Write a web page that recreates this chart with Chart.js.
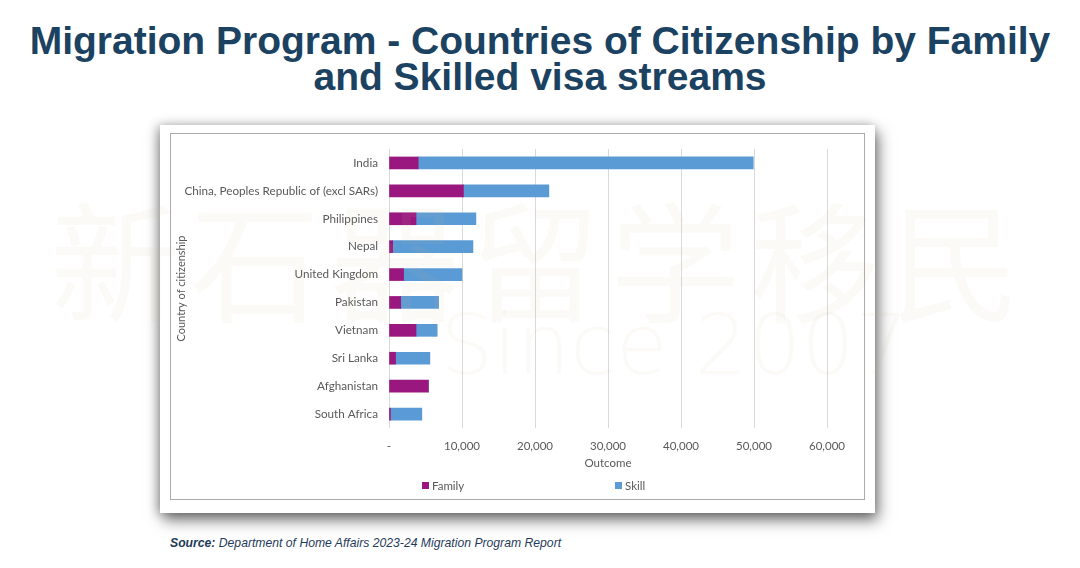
<!DOCTYPE html>
<html>
<head>
<meta charset="utf-8">
<script src="https://cdn.jsdelivr.net/npm/chart.js@4.4.1/dist/chart.umd.min.js"></script>
<style>
  body { margin: 0; width: 1080px; height: 568px; background: #fff; position: relative; overflow: hidden; font-family: "Liberation Sans", Arial, sans-serif; }
  h1 { position: absolute; left: 0; top: 23px; width: 1080px; margin: 0; text-align: center; font-size: 39px; line-height: 36px; font-weight: bold; color: #1c4262; }
  .card { position: absolute; left: 160px; top: 125px; width: 715px; height: 388px; background: #fff; box-shadow: 3px 7px 14px rgba(0,0,0,0.55), -3px 0 10px rgba(0,0,0,0.25); }
  .frame { position: absolute; left: 10px; top: 8px; width: 693px; height: 365px; border: 1px solid #ababab; }
  .source { position: absolute; left: 170px; top: 536px; font-size: 12.2px; font-style: italic; color: #1f3b5a; }
  .wm { position: absolute; left: 0; top: 0; width: 1080px; height: 568px; pointer-events: none; color: rgba(200,185,150,0.08); }
  .wm .cn { position: absolute; left: 50px; top: 180px; font-family: "Noto Sans CJK SC"; font-size: 130px; letter-spacing: 10px; line-height: 150px; }
  .wm .since { position: absolute; left: 440px; top: 300px; font-family: "DejaVu Sans"; font-weight: 200; font-size: 84px; line-height: 90px; }
</style>
</head>
<body>
<h1>Migration Program - Countries of Citizenship by Family<br>and Skilled visa streams</h1>
<div class="card">
  <div class="frame"><canvas id="chart" width="693" height="365"></canvas></div>
</div>
<div class="source"><b>Source:</b> Department of Home Affairs 2023-24 Migration Program Report</div>
<div class="wm"><div class="cn">新石器留学移民</div><div class="since">Since 2007</div></div>
<script>
const countries = ['India', 'China, Peoples Republic of (excl SARs)', 'Philippines', 'Nepal', 'United Kingdom', 'Pakistan', 'Vietnam', 'Sri Lanka', 'Afghanistan', 'South Africa'];
const family = [4000, 10200, 3700, 500, 2000, 1600, 3700, 900, 5400, 200];
const skill = [45900, 11700, 8200, 11000, 8000, 5200, 2900, 4700, 0, 4300];
const seriesNames = ['Family', 'Skill'];
const xTicks = [0, 10000, 20000, 30000, 40000, 50000, 60000];

const labelFont = { family: 'Lato', size: 11 };

// legend spread wide like the Excel original
const wideLegend = {
  id: 'wideLegend',
  afterDraw(chart) {
    const ctx = chart.ctx;
    const y = chart.height - 13;
    let x = chart.chartArea.left + 33;
    ctx.save();
    ctx.font = '11.5px Lato';
    ctx.textBaseline = 'middle';
    chart.data.datasets.forEach(ds => {
      ctx.fillStyle = ds.backgroundColor;
      ctx.fillRect(x, y - 4, 7, 7);
      ctx.fillStyle = '#595959';
      ctx.fillText(ds.label, x + 10, y);
      x += 193;
    });
    ctx.restore();
  }
};

new Chart(document.getElementById('chart'), {
  type: 'bar',
  data: {
    labels: countries,
    datasets: [
      { label: seriesNames[0], data: family, backgroundColor: '#99177f', barThickness: 12 },
      { label: seriesNames[1], data: skill, backgroundColor: '#5b9bd5', barThickness: 12 },
    ],
  },
  options: {
    indexAxis: 'y',
    responsive: false,
    animation: false,
    layout: { padding: { top: 15, right: 37, bottom: 29, left: 0 } },
    plugins: {
      legend: { display: false },
      tooltip: { enabled: false },
    },
    scales: {
      x: {
        stacked: true,
        min: 0,
        max: 60000,
        afterBuildTicks: axis => { axis.ticks = xTicks.map(v => ({ value: v })); },
        afterFit: axis => { axis.height = 42; },
        ticks: {
          color: '#595959',
          font: { family: 'Lato', size: 11.5 },
          padding: 11,
          callback: v => v === 0 ? '-' : v.toLocaleString('en-US'),
        },
        grid: { color: '#d9d9d9', drawTicks: false },
        border: { display: false },
        title: { display: true, text: 'Outcome', color: '#595959', font: { family: 'Lato', size: 11.5 }, padding: 0 },
      },
      y: {
        stacked: true,
        afterFit: axis => { axis.width = 218; },
        ticks: { color: '#595959', font: { family: 'Lato', size: 11.7 }, padding: 3 },
        grid: { display: false },
        border: { display: false },
        title: { display: true, text: 'Country of citizenship', color: '#595959', font: labelFont, padding: 4 },
      },
    },
  },
  plugins: [wideLegend],
});
</script>
</body>
</html>
